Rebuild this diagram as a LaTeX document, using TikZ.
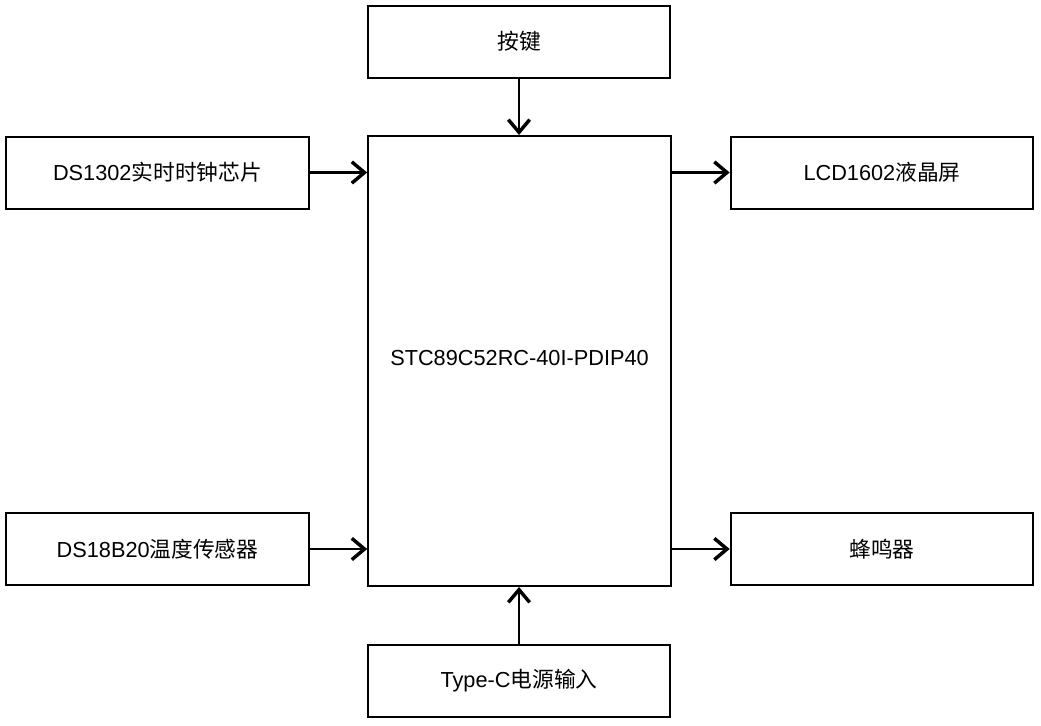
\documentclass[tikz,border=0pt]{standalone}
\usepackage{fontspec}
\setmainfont{Liberation Sans}
\newfontfamily\cjk{Noto Sans CJK SC}
\usepackage{tikz}
\usetikzlibrary{arrows.meta}

\tikzset{
	block/.style={draw=black, line width=1.5pt, minimum width=227pt, minimum height=54pt,
		inner sep=0pt, font=\fontsize{16.3}{19}\selectfont},
	link/.style={line width=1.6pt, -{Straight Barb[length=9.5pt, width=16pt, line width=2.6pt]}}
}

\begin{document}
\begin{tikzpicture}[x=0.75pt, y=-0.75pt]
		\useasboundingbox (0,0) rectangle (1041,725);

		\node[block, minimum height=337.5pt] (mcu) at (519.5, 361) {\raisebox{4.5pt}{STC89C52RC-40I-PDIP40}};

		\node[block] (key) at (519, 41.5) {{\cjk 按键}};
		\node[block] (rtc) at (157.5, 172.5) {DS1302{\cjk 实时时钟芯片}};
		\node[block] (lcd) at (882, 172.5) {LCD1602{\cjk 液晶屏}};
		\node[block] (temp) at (157.5, 549) {DS18B20{\cjk 温度传感器}};
		\node[block] (buzz) at (882, 549) {{\cjk 蜂鸣器}};
		\node[block] (power) at (519, 681) {Type-C{\cjk 电源输入}};

		\draw[link] (key.south) -- (key.south |- mcu.north);
		\draw[link] (power.north) -- (power.north |- mcu.south);
		\draw[link] (rtc.east) -- (rtc.east -| mcu.west);
		\draw[link] (temp.east) -- (temp.east -| mcu.west);
		\draw[link] (lcd.west -| mcu.east) -- (lcd.west);
		\draw[link] (buzz.west -| mcu.east) -- (buzz.west);
	\end{tikzpicture}
\end{document}
